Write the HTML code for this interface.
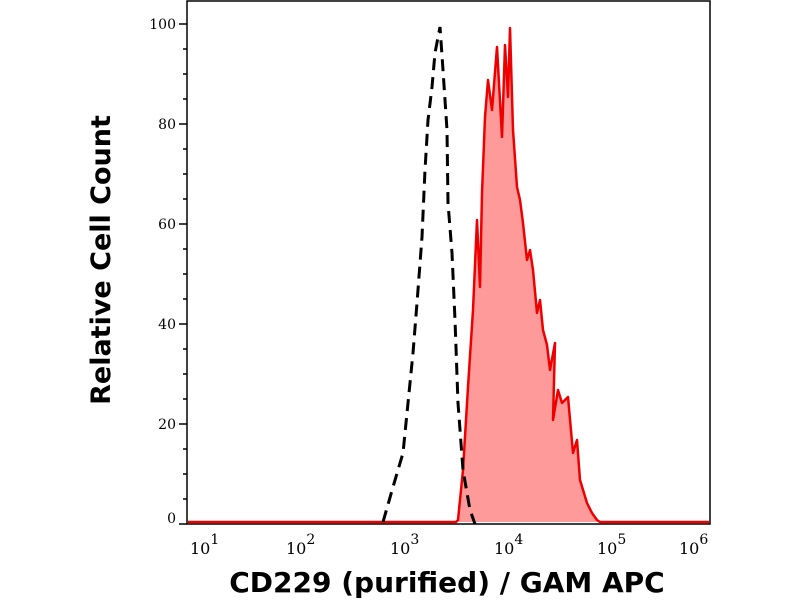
<!DOCTYPE html>
<html><head><meta charset="utf-8"><style>
html,body{margin:0;padding:0;background:#fff;}
svg{display:block;}
</style></head><body>
<svg width="800" height="600" viewBox="0 0 800 600" xmlns="http://www.w3.org/2000/svg" font-family="DejaVu Serif, Liberation Serif, serif">
<rect x="187" y="1" width="523" height="523" fill="none" stroke="#000" stroke-width="1.5"/>
<path d="M188,522 L456,522 L458,520 L463,470 L468,387 L473,310 L477,220 L480,287 L482,193 L485,117 L488,80 L492,110 L497,47 L502,137 L505,45 L508,97 L510,28 L513,130 L517,187 L520,200 L523,223 L527,260 L530,250 L533,270 L537,313 L540,300 L543,330 L547,345 L550,370 L555,343 L553,420 L558,390 L562,403 L568,397 L573,453 L577,440 L580,480 L587,503 L592,513 L597,520 L600,522 L709,522" fill="#ff9a9a" stroke="#ee0000" stroke-width="2.5" stroke-linejoin="round"/>
<path d="M383,522 L393,487 L403,453 L408,403 L413,353 L417,303 L422,237 L425,170 L428,120 L432,87 L435,53 L440,27 L443,70 L447,130 L448,203 L452,253 L455,320 L458,403 L463,470 L470,510 L475,524" fill="none" stroke="#000" stroke-width="3" stroke-dasharray="12,7"/>
<g stroke="#000" stroke-width="1.5">
<line x1="179" y1="524" x2="187" y2="524"/><line x1="179" y1="424" x2="187" y2="424"/><line x1="179" y1="324" x2="187" y2="324"/><line x1="179" y1="224" x2="187" y2="224"/><line x1="179" y1="124" x2="187" y2="124"/><line x1="179" y1="24" x2="187" y2="24"/>
<line x1="183" y1="499" x2="187" y2="499"/><line x1="183" y1="474" x2="187" y2="474"/><line x1="183" y1="449" x2="187" y2="449"/>
<line x1="183" y1="399" x2="187" y2="399"/><line x1="183" y1="374" x2="187" y2="374"/><line x1="183" y1="349" x2="187" y2="349"/>
<line x1="183" y1="299" x2="187" y2="299"/><line x1="183" y1="274" x2="187" y2="274"/><line x1="183" y1="249" x2="187" y2="249"/>
<line x1="183" y1="199" x2="187" y2="199"/><line x1="183" y1="174" x2="187" y2="174"/><line x1="183" y1="149" x2="187" y2="149"/>
<line x1="183" y1="99" x2="187" y2="99"/><line x1="183" y1="74" x2="187" y2="74"/><line x1="183" y1="49" x2="187" y2="49"/>
</g>
<g font-size="14" text-anchor="end" fill="#000">
<text x="176" y="523">0</text><text x="176" y="429">20</text><text x="176" y="329">40</text><text x="176" y="229">60</text><text x="176" y="129">80</text><text x="176" y="29">100</text>
</g>
<g stroke="#000" stroke-width="1.5" id="xt"></g>
<script>
var g=document.getElementById('xt'),s='';
for(var d=1;d<=6;d++){var x0=188+(d-1)*104;
 s+='<line x1="'+x0+'" y1="524" x2="'+x0+'" y2="533"/>';
 if(d<6)for(var m=2;m<=9;m++){var x=x0+104*Math.log10(m);s+='<line x1="'+x+'" y1="524" x2="'+x+'" y2="529"/>';}}
g.innerHTML=s;
</script>
<g font-size="16" fill="#000">
<text x="190" y="554">10<tspan dy="-10" font-size="14">1</tspan></text>
<text x="286" y="554">10<tspan dy="-10" font-size="14">2</tspan></text>
<text x="390" y="554">10<tspan dy="-10" font-size="14">3</tspan></text>
<text x="494" y="554">10<tspan dy="-10" font-size="14">4</tspan></text>
<text x="597" y="554">10<tspan dy="-10" font-size="14">5</tspan></text>
<text x="679" y="554">10<tspan dy="-10" font-size="14">6</tspan></text>
</g>
<text x="447" y="592" text-anchor="middle" font-family="DejaVu Sans, Liberation Sans, sans-serif" font-weight="bold" font-size="28">CD229 (purified) / GAM APC</text>
<text transform="translate(110,260) rotate(-90)" text-anchor="middle" font-family="DejaVu Sans, Liberation Sans, sans-serif" font-weight="bold" font-size="27">Relative Cell Count</text>
</svg>
</body></html>
